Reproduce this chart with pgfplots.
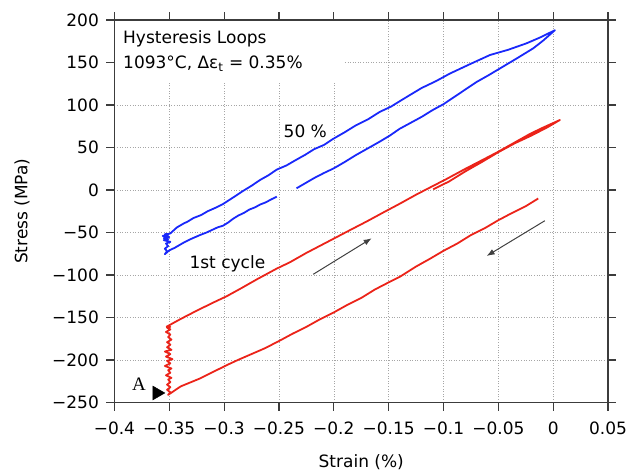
\documentclass[border=0pt]{standalone}
\usepackage{fontspec}
\setmainfont{DejaVu Sans}
\newfontfamily\serifA{Liberation Serif}
\usepackage{pgfplots}
\pgfplotsset{compat=1.18}
\usetikzlibrary{arrows.meta}
\definecolor{myblue}{RGB}{25,40,250}
\definecolor{myred}{RGB}{235,35,25}
\definecolor{axgray}{RGB}{60,60,60}
\newcommand\f{\fontsize{17bp}{20bp}\selectfont}
\begin{document}
\begin{tikzpicture}
\begin{axis}[
  name=ax,
  scale only axis, width=493.7bp, height=382.5bp,
  xmin=-0.4, xmax=0.05, ymin=-250, ymax=200,
  xtick={-0.4,-0.35,-0.3,-0.25,-0.2,-0.15,-0.1,-0.05,0,0.05},
  xticklabels={−0.4,−0.35,−0.3,−0.25,−0.2,−0.15,−0.1,−0.05,0,0.05},
  ytick={-250,-200,-150,-100,-50,0,50,100,150,200},
  yticklabels={−250,−200,−150,−100,−50,0,50,100,150,200},
  xtick pos=bottom, ytick pos=left,
  tick align=outside, major tick length=8bp,
  tick style={line width=1.1pt, axgray},
  axis line style={draw=none},
  grid=major,
  grid style={black!35, line width=0.6pt, dash pattern=on 1pt off 1.6pt},
  tick label style={font=\f},
  xticklabel style={yshift=-8bp},
  yticklabel style={xshift=-4bp},
  xlabel={Strain (\%)}, ylabel={Stress (MPa)},
  every axis x label/.style={at={(axis description cs:0.5,-0.1556)},anchor=center,font=\f},
  every axis y label/.style={at={(axis description cs:-0.1872,0.5)},anchor=center,rotate=90,font=\f},
  clip=false,
]
\fill[white] (axis cs:-0.4,200) rectangle (axis cs:-0.1917,125.9);

% 50 % cycle (blue)
\addplot[myblue, line width=1.8pt, line join=round] coordinates {
(-0.252,-7.8) (-0.257,-11) (-0.262,-14.5) (-0.267,-17) (-0.272,-20.5) (-0.277,-23) (-0.282,-27) (-0.287,-30) (-0.292,-34) (-0.296,-38) (-0.301,-42)
(-0.306,-44) (-0.311,-47) (-0.316,-50) (-0.322,-53) (-0.330,-57.5) (-0.337,-62) (-0.345,-68) (-0.350,-71) (-0.354,-75.5)
(-0.352,-72) (-0.354,-69) (-0.351,-66) (-0.353,-63) (-0.349,-61) (-0.355,-59) (-0.351,-58) (-0.355,-56.5)
(-0.350,-55.5) (-0.356,-54) (-0.351,-53) (-0.354,-52) (-0.350,-51.5) (-0.349,-51)
(-0.343,-44) (-0.337,-39.5) (-0.333,-37) (-0.328,-33) (-0.321,-29.5) (-0.315,-25) (-0.308,-21) (-0.301,-16.5) (-0.292,-9) (-0.2826,-1)
(-0.275,5) (-0.267,12) (-0.26,17) (-0.252,24) (-0.243,29) (-0.235,35) (-0.226,41.5) (-0.218,48) (-0.209,53) (-0.2008,60) (-0.19,68) (-0.18,76)
(-0.169,83) (-0.158,92) (-0.148,98) (-0.138,106) (-0.129,113) (-0.12,120) (-0.107,128) (-0.0942,137) (-0.076,148) (-0.0577,158.8) (-0.041,165) (-0.0243,172.6) (-0.011,180)
(0.0015,188)
(-0.009,176) (-0.0182,166.7) (-0.033,155) (-0.0486,143) (-0.059,135) (-0.07,127) (-0.085,114) (-0.1,101) (-0.11,94) (-0.12,86) (-0.13,79) (-0.14,72)
(-0.149,64) (-0.158,57) (-0.169,49) (-0.18,41) (-0.19,33) (-0.2,25.5) (-0.209,20) (-0.218,14) (-0.226,8) (-0.234,2)
};

% 1st cycle (red)
\addplot[myred, line width=1.8pt, line join=round] coordinates {
(-0.0137,-10) (-0.025,-19) (-0.0375,-27) (-0.050,-35.5) (-0.0625,-45) (-0.075,-53)
(-0.0875,-63) (-0.1,-71.5) (-0.1125,-81) (-0.125,-90) (-0.1397,-102) (-0.149,-108)
(-0.1625,-117) (-0.175,-127) (-0.1875,-135) (-0.2,-144) (-0.2125,-152) (-0.225,-161)
(-0.2375,-169) (-0.249,-177) (-0.2625,-186) (-0.275,-193) (-0.2875,-200) (-0.2975,-206)
(-0.31,-214) (-0.3225,-222) (-0.3395,-231) (-0.351,-241)
(-0.349,-238) (-0.352,-235) (-0.349,-232) (-0.352,-229) (-0.349,-226) (-0.351,-223) (-0.348,-221) (-0.353,-218)
(-0.349,-215) (-0.351,-212) (-0.348,-210) (-0.354,-207) (-0.349,-204) (-0.352,-201) (-0.347,-199) (-0.353,-196)
(-0.349,-193) (-0.354,-190) (-0.348,-188) (-0.352,-185) (-0.349,-182) (-0.352,-179) (-0.348,-176) (-0.351,-173)
(-0.349,-170) (-0.353,-167) (-0.349,-164) (-0.352,-162) (-0.349,-161)
(-0.3524,-160.8) (-0.34,-152) (-0.325,-142) (-0.31,-132.5) (-0.2977,-125) (-0.285,-116)
(-0.27,-105) (-0.2521,-92.5) (-0.24,-85) (-0.225,-74) (-0.2005,-57.5) (-0.185,-47)
(-0.17,-37) (-0.155,-26.5) (-0.1397,-16) (-0.125,-5.5) (-0.11,4.5) (-0.0972,13)
(-0.08,25) (-0.065,35) (-0.0516,44) (-0.035,56) (-0.0212,66) (-0.01,73) (0.0061,82.4)
(-0.005,74) (-0.02,64) (-0.035,55) (-0.05,44.5) (-0.065,33) (-0.08,22) (-0.095,10)
(-0.1094,0.8)
};

% marker A
\addplot[only marks, mark=triangle*, mark size=8bp, mark options={rotate=-90, fill=black, draw=black}] coordinates {(-0.3613,-238.8)};
\node[font=\serifA\fontsize{19bp}{22bp}\selectfont] at (axis cs:-0.3776,-228) {A};

% arrows
\draw[line width=1pt, black!75, -{Latex[length=8bp,width=6bp]}] (axis cs:-0.2188,-99.2) -- (axis cs:-0.1655,-56.8);
\draw[line width=1pt, black!75, -{Latex[length=8bp,width=6bp]}] (axis cs:-0.0076,-36.1) -- (axis cs:-0.0607,-77.6);

% labels
\node[font=\f] at (axis cs:-0.226,69) {50 \%};
\node[font=\f] at (axis cs:-0.297,-87) {1st cycle};
\node[anchor=north west, align=left, inner sep=0pt, font=\fontsize{17bp}{25bp}\selectfont]
  at ([xshift=8.6bp, yshift=-10.7bp]rel axis cs:0,1) {Hysteresis Loops\\1093°C, Δε\textsubscript{t} = 0.35\%};
\end{axis}

% ticks on top and right (outside), drawn after the axis
\foreach \i in {1,...,8} {
  \draw[line width=1.1pt, axgray] ([xshift=\i*54.856bp]ax.north west) -- ++(0bp,8bp);
  \draw[line width=1.1pt, axgray] ([yshift=\i*42.5bp]ax.south east) -- ++(8bp,0bp);
}
% axis frame with overhang
\draw[line width=1.3pt, axgray] ([xshift=-8bp]ax.south west) -- ([xshift=8bp]ax.south east);
\draw[line width=1.3pt, axgray] ([xshift=-8bp]ax.north west) -- ([xshift=8bp]ax.north east);
\draw[line width=1.3pt, axgray] ([yshift=-8bp]ax.south west) -- ([yshift=8bp]ax.north west);
\draw[line width=1.3pt, axgray] ([yshift=-8bp]ax.south east) -- ([yshift=8bp]ax.north east);

\pgfresetboundingbox
\path[use as bounding box] ([shift={(-114.4bp,-67.5bp)}]ax.south west) rectangle ([shift={(26.9bp,20bp)}]ax.north east);
\end{tikzpicture}
\end{document}
